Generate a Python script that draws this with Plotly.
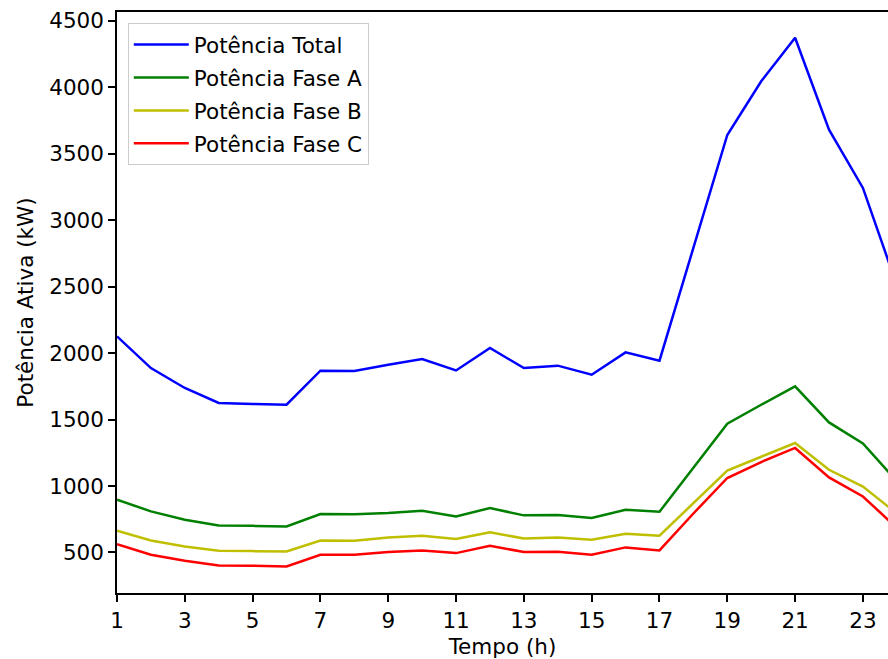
import plotly.graph_objects as go

hours = list(range(1, 25))
total = [2125, 1887, 1737, 1624, 1617, 1611, 1867, 1865, 1912, 1955, 1869, 2038,
         1887, 1905, 1837, 2005, 1942, 2783, 3640, 4044, 4371, 3680, 3242, 2510]
fase_a = [897, 809, 746, 703, 700, 696, 789, 787, 796, 814, 771, 834,
          779, 782, 759, 821, 806, 1138, 1468, 1611, 1749, 1478, 1320, 1035]
fase_b = [663, 590, 545, 513, 510, 508, 590, 588, 613, 626, 601, 651,
          605, 613, 596, 641, 626, 872, 1115, 1220, 1323, 1122, 995, 793]
fase_c = [563, 483, 438, 402, 400, 395, 483, 483, 503, 515, 495, 550,
          503, 505, 483, 538, 515, 793, 1060, 1180, 1286, 1064, 921, 685]

series = [
    ("Potência Total", total, "#0000ff"),
    ("Potência Fase A", fase_a, "#008000"),
    ("Potência Fase B", fase_b, "#bfbf00"),
    ("Potência Fase C", fase_c, "#ff0000"),
]

xticks = list(range(1, 24, 2))
yticks = list(range(500, 4501, 500))

font = "DejaVu Sans"
fs = 21.5
fig = go.Figure()
for name, vals, color in series:
    fig.add_trace(go.Scatter(x=hours, y=vals, mode="lines", name=name,
                             legendgroup=name,
                             line=dict(color=color, width=2.5)))

fig.update_layout(
    width=888, height=659,
    margin=dict(l=117, r=0, t=12, b=66),
    plot_bgcolor="white", paper_bgcolor="white",
    font=dict(family=font, size=fs, color="black"),
    showlegend=True,
    legend=dict(x=0.014, y=0.981, xanchor="left", yanchor="top",
                bgcolor="white", bordercolor="#cccccc", borderwidth=1,
                font=dict(size=fs), tracegroupgap=2, itemwidth=55),
    xaxis=dict(range=[1, 23.74], tickvals=xticks, ticks="outside", ticklen=7,
               tickwidth=1.5, tickcolor="black", showline=True, linecolor="black",
               linewidth=1.5, mirror=True, showgrid=False, zeroline=False,
               tickfont=dict(size=fs),
               title=dict(text="Tempo (h)", standoff=7, font=dict(size=fs))),
    yaxis=dict(range=[195, 4565], tickvals=yticks, ticks="outside", ticklen=7,
               tickwidth=1.5, tickcolor="black", showline=True, linecolor="black",
               linewidth=1.5, showgrid=False, zeroline=False,
               tickfont=dict(size=fs),
               title=dict(text="Potência Ativa (kW)", standoff=10, font=dict(size=fs))),
)

fig.write_html("out.html")
